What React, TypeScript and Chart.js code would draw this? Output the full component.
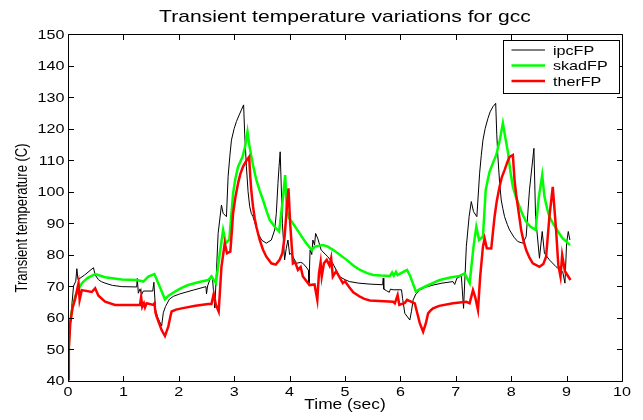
import React, { useEffect, useRef } from "react";
import { Chart, registerables } from "chart.js";

Chart.register(...registerables);

const chartTitle = "Transient temperature variations for gcc";
const xAxisTitle = "Time (sec)";
const yAxisTitle = "Transient temperature (C)";
const seriesNames = ["ipcFP", "skadFP", "therFP"];
const xTicks = [0, 1, 2, 3, 4, 5, 6, 7, 8, 9, 10];
const yTicks = [40, 50, 60, 70, 80, 90, 100, 110, 120, 130, 140, 150];

const ipcTime = [0, 0.02, 0.06, 0.1, 0.14, 0.16, 0.18, 0.3, 0.46, 0.49, 0.55, 0.6, 0.67, 0.8, 0.97, 1.24, 1.25, 1.27, 1.3, 1.33, 1.36, 1.53, 1.55, 1.58, 1.62, 1.69, 1.72, 1.76, 1.83, 1.9, 2.02, 2.26, 2.49, 2.5, 2.52, 2.59, 2.61, 2.65, 2.71, 2.77, 2.8, 2.86, 2.89, 2.92, 2.95, 3.0, 3.04, 3.09, 3.13, 3.17, 3.19, 3.22, 3.25, 3.28, 3.31, 3.34, 3.43, 3.5, 3.58, 3.67, 3.73, 3.76, 3.79, 3.81, 3.83, 3.87, 3.91, 3.94, 3.97, 4.0, 4.03, 4.12, 4.2, 4.24, 4.3, 4.34, 4.35, 4.37, 4.4, 4.42, 4.45, 4.47, 4.51, 4.57, 4.69, 4.78, 4.9, 5.0, 5.08, 5.25, 5.45, 5.68, 5.69, 5.7, 5.75, 5.8, 5.82, 5.87, 6.02, 6.04, 6.08, 6.17, 6.2, 6.23, 6.28, 6.35, 6.45, 6.59, 6.75, 6.95, 6.98, 7.02, 7.1, 7.14, 7.19, 7.24, 7.28, 7.32, 7.38, 7.43, 7.46, 7.49, 7.53, 7.58, 7.62, 7.67, 7.72, 7.74, 7.76, 7.79, 7.82, 7.85, 7.88, 7.93, 7.97, 8.05, 8.12, 8.21, 8.27, 8.33, 8.41, 8.44, 8.51, 8.56, 8.6, 8.69, 8.81, 8.93, 8.97, 9.0, 9.03, 9.06];
const ipcTemp = [40, 55, 62, 70, 71.5, 75.5, 72, 73.5, 75.8, 73.5, 72, 71.4, 70.9, 70.2, 69.8, 69.7, 72.4, 67.7, 69.1, 67.3, 68.4, 68.4, 71.2, 62.5, 60, 57.3, 61.5, 63.5, 65.8, 66.7, 67.5, 68.7, 69.8, 67.5, 70, 73.5, 72, 63, 86.7, 95.7, 93.1, 92, 104.7, 111, 116.3, 120, 122.2, 124.3, 125.9, 127.5, 118, 108, 100, 95.2, 93, 92, 86.7, 84.5, 83.6, 84.6, 87.8, 93, 102.6, 108, 112.6, 89.9, 78.3, 82, 84.6, 80, 80.4, 77.2, 77.5, 77.2, 76, 75, 70.9, 81.4, 80, 84.6, 83, 86.7, 85, 81.4, 79.3, 77.2, 73, 72, 71.4, 70.9, 70.6, 70.4, 72.5, 69, 68.5, 68, 69, 68.8, 68.8, 66, 61.3, 59.2, 62, 65.6, 67.5, 68.7, 69.6, 70.3, 70.9, 71.4, 70.5, 72.5, 73.2, 62.9, 82.5, 92, 96.8, 93.6, 92, 105.8, 111.5, 116.3, 120, 123.2, 125.3, 126.9, 128, 118, 111, 103, 97.3, 94.5, 92, 89.5, 87.8, 85.5, 84.1, 83.6, 85.7, 100.5, 113.7, 92, 78.8, 87.3, 80.4, 78.3, 76.1, 74.5, 70.9, 83.6, 87.3, 84.6];

const skadTime = [0, 0.03, 0.08, 0.13, 0.19, 0.25, 0.35, 0.49, 0.67, 0.97, 1.24, 1.36, 1.45, 1.56, 1.63, 1.75, 1.82, 1.93, 2.05, 2.17, 2.35, 2.53, 2.59, 2.67, 2.74, 2.8, 2.85, 2.91, 2.95, 2.98, 3.02, 3.07, 3.15, 3.2, 3.24, 3.27, 3.31, 3.35, 3.4, 3.46, 3.52, 3.58, 3.64, 3.73, 3.81, 3.87, 3.92, 3.95, 3.99, 4.06, 4.18, 4.3, 4.4, 4.45, 4.6, 4.69, 4.79, 4.9, 5.03, 5.15, 5.27, 5.4, 5.51, 5.65, 5.81, 5.85, 5.88, 5.92, 5.95, 6.12, 6.18, 6.28, 6.35, 6.47, 6.6, 6.71, 6.9, 7.07, 7.16, 7.25, 7.32, 7.37, 7.42, 7.49, 7.54, 7.58, 7.61, 7.67, 7.73, 7.79, 7.85, 7.9, 7.94, 7.98, 8.03, 8.09, 8.15, 8.21, 8.27, 8.35, 8.44, 8.5, 8.56, 8.6, 8.65, 8.69, 8.75, 8.81, 8.87, 8.93, 9.0, 9.06];
const skadTemp = [45, 58, 63, 66.6, 69, 70.9, 72.5, 73.8, 72.8, 72.1, 71.9, 71.4, 73, 73.8, 70.9, 65.8, 67, 68.2, 69.4, 70.3, 71.2, 71.9, 73, 70.9, 80.4, 87.8, 83.6, 84.6, 93, 99.4, 104, 107.9, 111, 114.5, 119, 115, 111, 107.5, 103.7, 100.3, 97.3, 94, 91, 88.8, 87.3, 96.3, 105.2, 94.1, 91.5, 89.9, 86.7, 83.6, 81.4, 82.5, 83, 82.5, 81.4, 80, 78.3, 76.5, 75.1, 74.1, 73.5, 73.3, 73.2, 74.3, 73.3, 74.5, 73.5, 75.1, 73, 68.2, 69, 70, 71.1, 71.9, 72.7, 73.2, 74, 70.9, 82.5, 88.8, 84.6, 85.7, 100.5, 104, 106.3, 109, 111.6, 116, 121.7, 116.5, 112.6, 107, 101.5, 98, 95.2, 92.5, 90.4, 88.8, 87.8, 98.4, 105.2, 98.4, 94.5, 92, 90, 88.3, 86.6, 85.1, 84, 83];

const therTime = [0, 0.015, 0.04, 0.08, 0.13, 0.19, 0.21, 0.25, 0.43, 0.49, 0.55, 0.67, 0.85, 1.24, 1.3, 1.32, 1.34, 1.37, 1.39, 1.42, 1.54, 1.56, 1.58, 1.6, 1.69, 1.75, 1.81, 1.85, 1.87, 1.95, 2.05, 2.3, 2.53, 2.59, 2.63, 2.67, 2.72, 2.77, 2.83, 2.87, 2.93, 2.96, 2.98, 3.02, 3.07, 3.11, 3.16, 3.22, 3.27, 3.29, 3.31, 3.34, 3.37, 3.4, 3.46, 3.52, 3.58, 3.67, 3.75, 3.82, 3.87, 3.91, 3.95, 3.98, 4.01, 4.06, 4.1, 4.15, 4.2, 4.24, 4.36, 4.45, 4.5, 4.53, 4.56, 4.58, 4.62, 4.67, 4.72, 4.75, 4.78, 4.84, 4.96, 5.0, 5.08, 5.15, 5.27, 5.35, 5.45, 5.87, 5.9, 5.95, 5.98, 6.08, 6.12, 6.26, 6.29, 6.35, 6.41, 6.46, 6.5, 6.55, 6.59, 6.7, 6.95, 7.19, 7.25, 7.31, 7.35, 7.4, 7.44, 7.49, 7.52, 7.56, 7.64, 7.67, 7.7, 7.74, 7.79, 7.83, 7.88, 7.93, 7.97, 8.03, 8.06, 8.09, 8.12, 8.15, 8.18, 8.22, 8.27, 8.33, 8.39, 8.51, 8.58, 8.63, 8.69, 8.75, 8.81, 8.85, 8.89, 8.92, 8.97, 9.07];
const therTemp = [40, 50, 58, 63, 66, 70.9, 65.6, 68.7, 68.1, 69.3, 66.9, 65, 64, 64, 64, 66.5, 63.4, 64.5, 63.2, 64.5, 64, 64.5, 61.5, 60.3, 56, 54.1, 57.1, 60.5, 61.9, 62.5, 62.9, 63.7, 64.3, 64.3, 67.5, 64, 61.9, 76.1, 83.6, 80.4, 80.9, 88, 93.1, 98, 102.6, 105.5, 107.9, 109.8, 111, 104.7, 100, 95.2, 91.5, 88.8, 84.6, 81.5, 79.3, 77.2, 76.8, 78.3, 80.4, 85.7, 95, 101, 89.9, 77.2, 77.6, 75.1, 76, 73, 70.3, 70.5, 65.6, 74, 77.5, 73, 77.2, 78.3, 76.5, 78.8, 73, 74.7, 70.9, 71.5, 69.5, 68, 66.6, 65.9, 65.4, 65, 64.5, 67.1, 64, 64.6, 65.6, 64.5, 62.4, 58.2, 55.5, 58.2, 61.3, 62.3, 62.9, 63.7, 64.5, 65, 64.5, 68.7, 66.5, 62.4, 73, 82.5, 85.1, 82, 81.9, 87, 92, 97, 101.5, 104.5, 106.8, 109.3, 111, 111.6, 103.7, 99, 95.2, 91.5, 87.8, 84.5, 81.4, 79, 77.2, 76.1, 77, 79.3, 92, 101.5, 87.8, 76.7, 73, 79.8, 74.7, 71.9];

const seriesColors = ["#000000", "#00ff00", "#ff0000"];
const seriesWidths = [1, 2.5, 2.5];

const FONT = '"Liberation Sans", Arial, Helvetica, sans-serif';
const SX = 1.24;

function txt(ctx: CanvasRenderingContext2D, s: string, x: number, y: number, size: number, align: CanvasTextAlign, rotate = false) {
  ctx.save();
  ctx.font = `${size}px ${FONT}`;
  ctx.fillStyle = "#000";
  ctx.textAlign = align;
  ctx.textBaseline = "alphabetic";
  ctx.translate(x, y);
  ctx.scale(SX, 1);
  if (rotate) ctx.rotate(-Math.PI / 2);
  ctx.fillText(s, 0, 0);
  ctx.restore();
}

const decorPlugin = {
  id: "decor",
  afterDraw(chart: any) {
    const ctx: CanvasRenderingContext2D = chart.ctx;
    const { left, right, top, bottom } = chart.chartArea;
    const xs = chart.scales.x;
    const ys = chart.scales.y;
    const L = Math.round(left) + 0.5;
    const R = Math.round(right) + 0.5;
    const T = Math.round(top) + 0.5;
    const B = Math.round(bottom) + 0.5;
    ctx.save();
    ctx.strokeStyle = "#000";
    ctx.lineWidth = 1;
    ctx.beginPath();
    ctx.rect(L, T, R - L, B - T);
    const tl = 5.5;
    xTicks.forEach((v) => {
      const px = Math.round(xs.getPixelForValue(v)) + 0.5;
      ctx.moveTo(px, B);
      ctx.lineTo(px, B - tl);
      ctx.moveTo(px, T);
      ctx.lineTo(px, T + tl);
    });
    yTicks.forEach((v) => {
      const py = Math.round(ys.getPixelForValue(v)) + 0.5;
      ctx.moveTo(L, py);
      ctx.lineTo(L + tl, py);
      ctx.moveTo(R, py);
      ctx.lineTo(R - tl, py);
    });
    ctx.stroke();
    ctx.restore();

    xTicks.forEach((v) => {
      txt(ctx, String(v), xs.getPixelForValue(v), 396, 13, "center");
    });
    yTicks.forEach((v) => {
      txt(ctx, String(v), 64.5, ys.getPixelForValue(v) + 4.6, 13, "right");
    });
    txt(ctx, chartTitle, (left + right) / 2, 22, 17, "center");
    txt(ctx, xAxisTitle, (left + right) / 2, 409, 14, "center");
    txt(ctx, yAxisTitle, 27.4, 218, 13, "center", true);

    // legend
    const bx = 503.5, by = 40.5, bw = 116, bh = 53;
    ctx.save();
    ctx.fillStyle = "#fff";
    ctx.fillRect(bx, by, bw, bh);
    ctx.strokeStyle = "#000";
    ctx.lineWidth = 1;
    ctx.strokeRect(bx, by, bw, bh);
    const rows = [50, 65.5, 81];
    seriesNames.forEach((name, i) => {
      ctx.beginPath();
      ctx.strokeStyle = seriesColors[i];
      ctx.lineWidth = seriesWidths[i];
      ctx.moveTo(511.5, rows[i]);
      ctx.lineTo(545, rows[i]);
      ctx.stroke();
      txt(ctx, name, 553, rows[i] + 4.6, 13, "left");
    });
    ctx.restore();
  },
};

function toPoints(t: number[], v: number[]) {
  return t.map((x, i) => ({ x, y: v[i] }));
}

export default function App() {
  const ref = useRef<HTMLCanvasElement | null>(null);
  useEffect(() => {
    if (!ref.current) return;
    const series = [
      toPoints(ipcTime, ipcTemp),
      toPoints(skadTime, skadTemp),
      toPoints(therTime, therTemp),
    ];
    const chart = new Chart(ref.current, {
      type: "line",
      data: {
        datasets: series.map((d, i) => ({
          label: seriesNames[i],
          data: d,
          borderColor: seriesColors[i],
          backgroundColor: seriesColors[i],
          borderWidth: seriesWidths[i],
          pointRadius: 0,
          tension: 0,
          fill: false,
          order: 3 - i,
        })),
      },
      options: {
        animation: false,
        responsive: false,
        maintainAspectRatio: false,
        events: [],
        layout: { padding: { left: 68, right: 21, top: 34, bottom: 39.5 } },
        plugins: { legend: { display: false }, title: { display: false }, tooltip: { enabled: false } },
        scales: {
          x: { type: "linear", min: 0, max: 10, display: false },
          y: { type: "linear", min: 40, max: 150, display: false },
        },
      },
      plugins: [decorPlugin],
    });
    return () => chart.destroy();
  }, []);
  return (
    <div style={{ position: "fixed", left: 0, top: 0, width: 643, height: 420, background: "#fff" }}>
      <canvas ref={ref} width={643} height={420} style={{ display: "block" }} />
    </div>
  );
}
